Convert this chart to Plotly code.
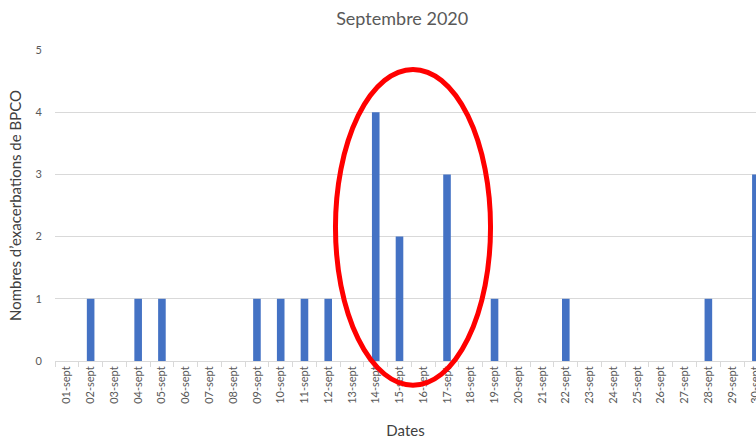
import plotly.graph_objects as go

dates = [f"{d:02d}-sept" for d in range(1, 31)]
values = [0, 1, 0, 1, 1, 0, 0, 0, 1, 1, 1, 1, 0, 4, 2, 0, 3, 0, 1, 0, 0, 1, 0, 0, 0, 0, 0, 1, 0, 3]

fig = go.Figure(go.Bar(x=dates, y=values, marker=dict(color="#4472C4", line=dict(width=0)),
                       width=0.32))

fig.update_layout(
    width=756, height=439,
    margin=dict(l=55, r=0, t=50, b=78),
    paper_bgcolor="white", plot_bgcolor="white",
    font=dict(family="Lato", color="#595959"),
    title=dict(text="Septembre 2020", x=0.532, xanchor="center", y=0.958, yanchor="middle",
               font=dict(size=18, color="#595959")),
    showlegend=False,
    xaxis=dict(
        type="category", range=[-0.5, 29.005], tickangle=-90, automargin=False,
        tickfont=dict(size=11, color="#595959"),
        showline=True, linecolor="#d9d9d9", linewidth=1,
        ticks="outside", tickson="boundaries", ticklen=5, tickcolor="#d9d9d9",
        showgrid=False,
        title=dict(text="Dates", font=dict(size=15, color="#404040"), standoff=22),
    ),
    yaxis=dict(
        range=[0, 5], dtick=1, showgrid=True, gridcolor="#d9d9d9", gridwidth=1,
        zeroline=False, tickfont=dict(size=11, color="#595959"), automargin=False,
        ticklabelstandoff=12,
        title=dict(text="Nombres d’exacerbations de BPCO", font=dict(size=15, color="#404040"), standoff=10),
    ),
    shapes=[dict(type="circle", xref="paper", yref="paper",
                 x0=0.4001, x1=0.6213, y0=-0.0777, y1=0.9374,
                 line=dict(color="#FF0000", width=5), layer="above")],
)

fig.write_html("out.html", config={"displayModeBar": False},
               post_script="document.body.style.margin='0';document.body.style.overflow='hidden';")
